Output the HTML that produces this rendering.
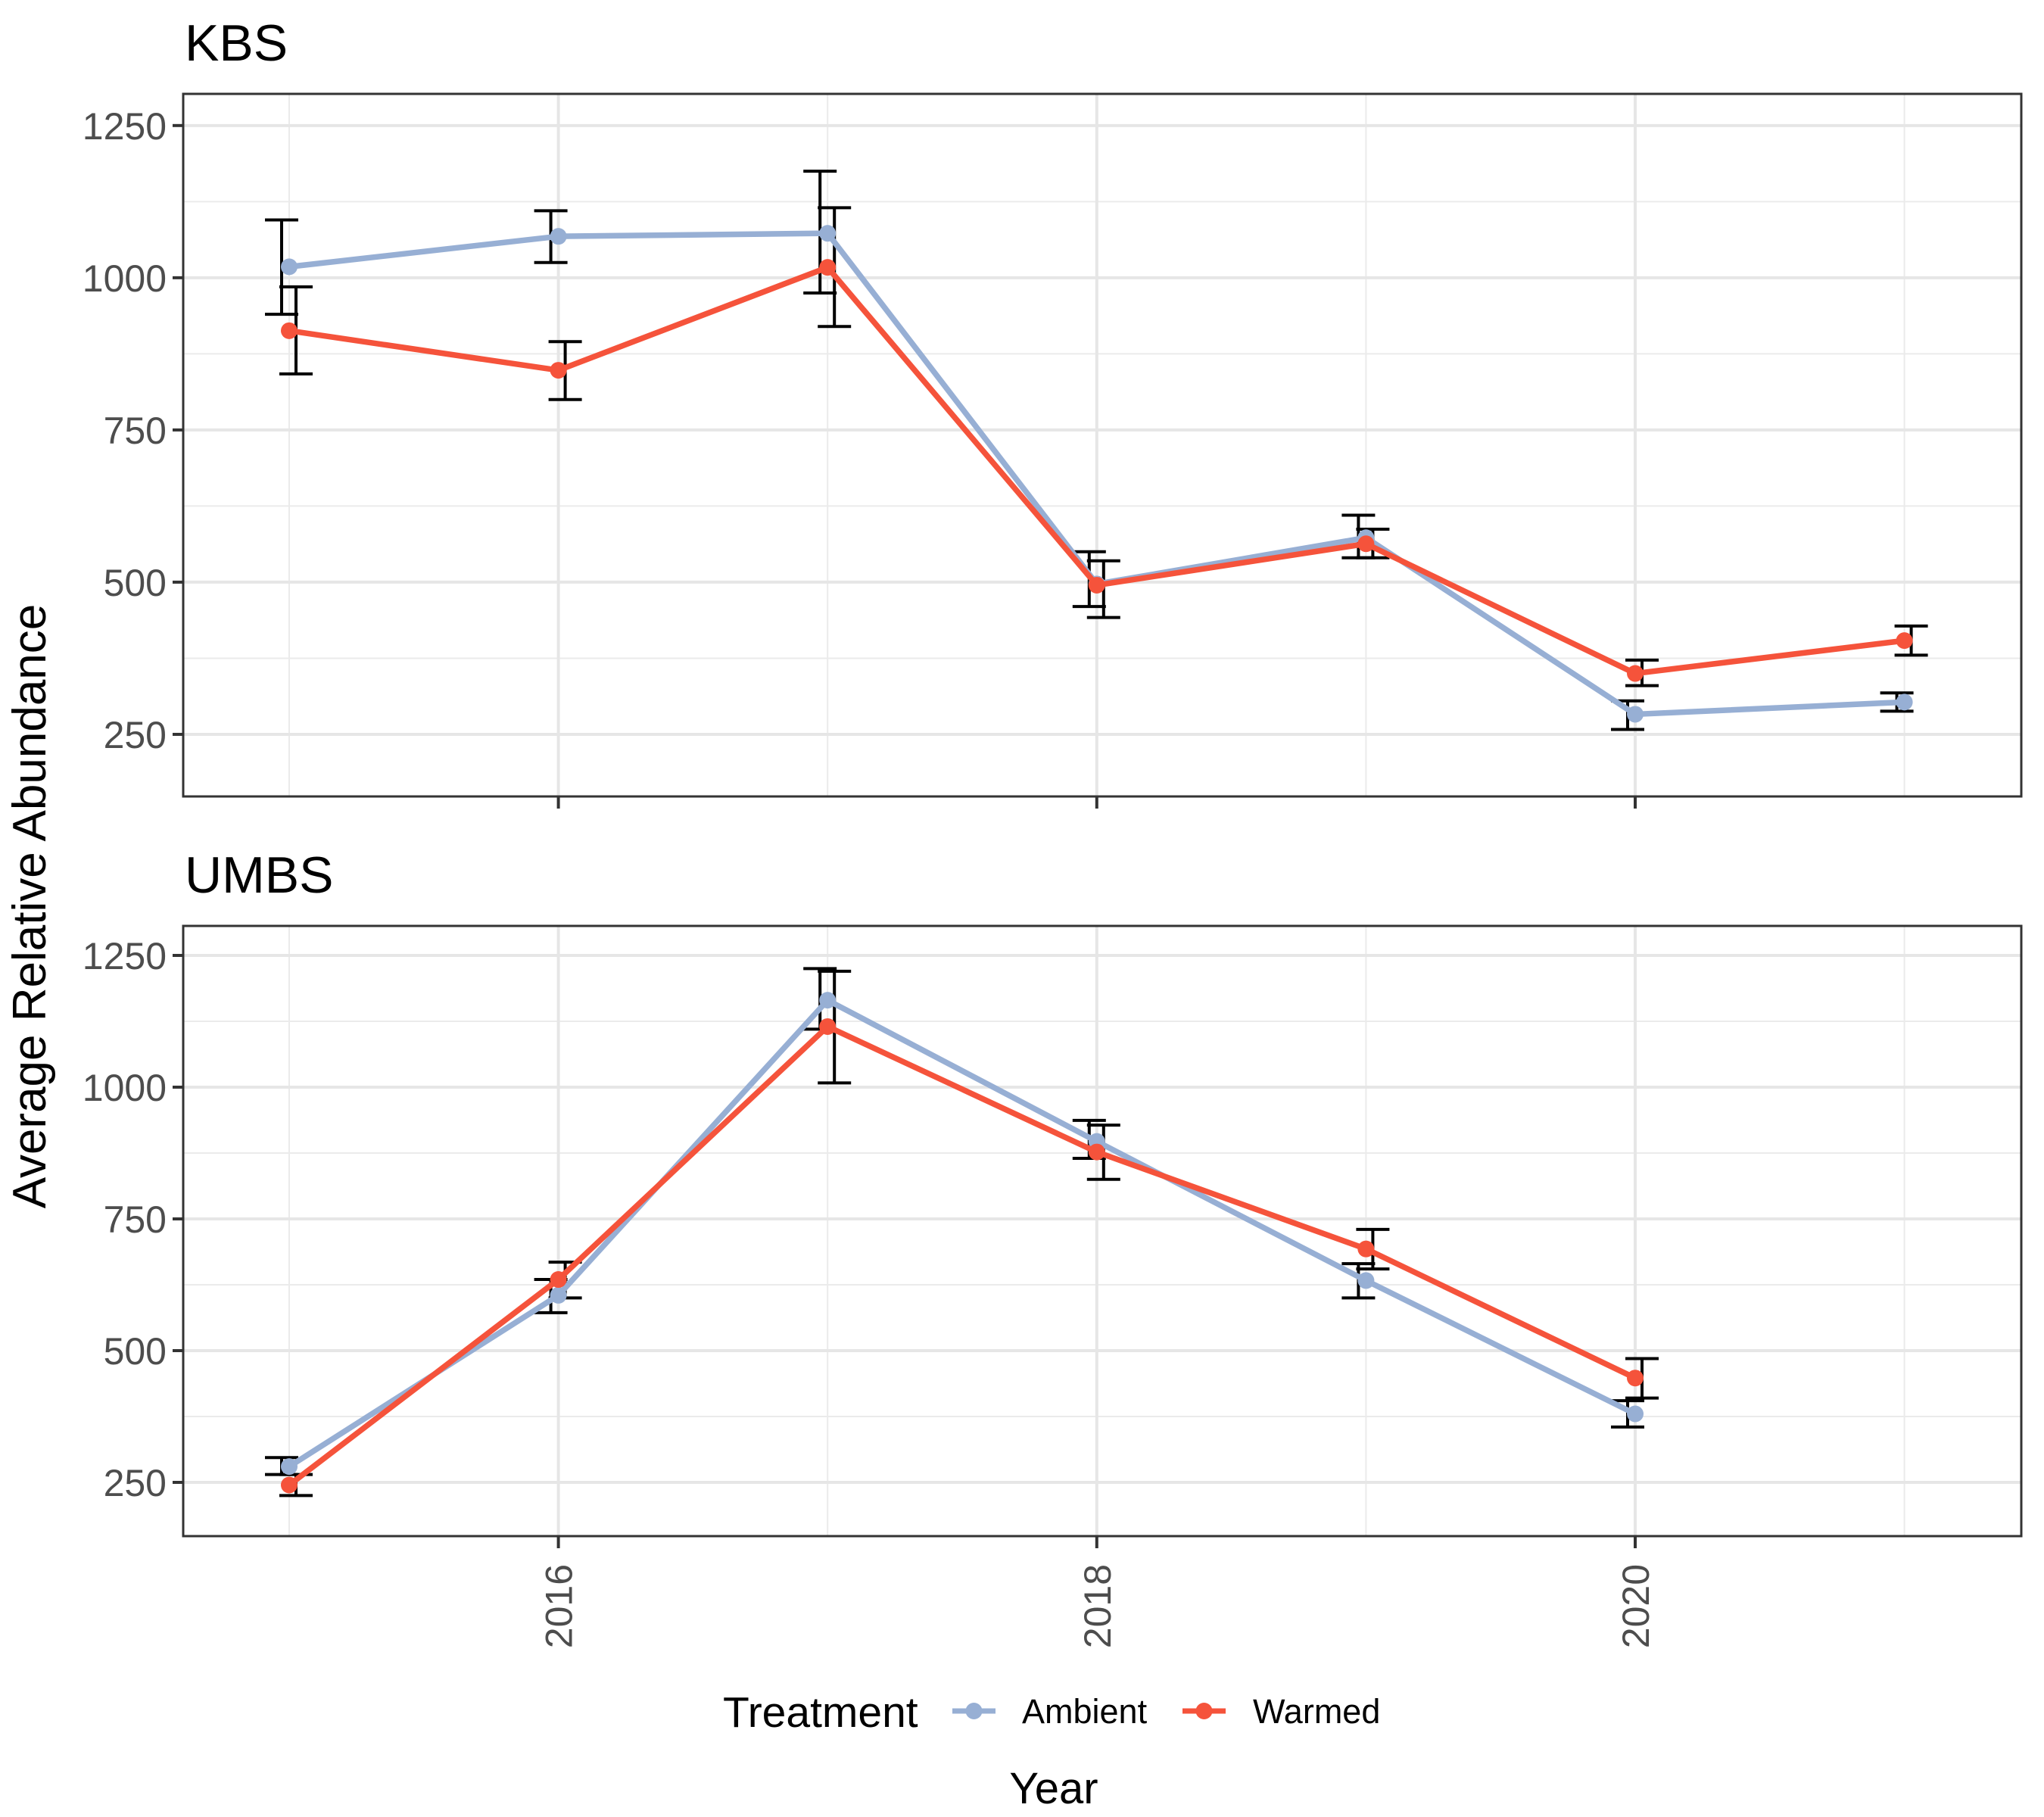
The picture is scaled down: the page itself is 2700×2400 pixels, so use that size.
<!DOCTYPE html>
<html><head><meta charset="utf-8"><style>
html,body{margin:0;padding:0;background:#fff;}
svg{display:block;font-family:"Liberation Sans",Arial,sans-serif;}
</style></head><body>
<svg id="chart" width="2700" height="2400" viewBox="0 0 2700 2400" xmlns="http://www.w3.org/2000/svg"></svg>
<script>
const years = [2015, 2016, 2017, 2018, 2019, 2020, 2021];
const xTicks = [2016, 2018, 2020];
const yTicks = [250, 500, 750, 1000, 1250];
const yMinorTicks = [375, 625, 875, 1125];
const kbsAmbient = [1018, 1068, 1073, 497, 573, 283, 303];
const kbsAmbientLo = [940, 1025, 975, 460, 540, 258, 288];
const kbsAmbientHi = [1095, 1110, 1175, 550, 610, 305, 318];
const kbsWarmed = [913, 848, 1017, 495, 563, 350, 404];
const kbsWarmedLo = [842, 800, 920, 442, 540, 330, 380];
const kbsWarmedHi = [985, 895, 1115, 535, 587, 372, 428];
const umbsAmbient = [280, 605, 1165, 897, 633, 380];
const umbsAmbientLo = [265, 572, 1110, 865, 600, 355];
const umbsAmbientHi = [297, 635, 1225, 937, 665, 405];
const umbsWarmed = [245, 635, 1115, 877, 693, 448];
const umbsWarmedLo = [225, 600, 1008, 825, 655, 410];
const umbsWarmedHi = [265, 668, 1220, 928, 730, 485];

const NS = "http://www.w3.org/2000/svg";
const svg = document.getElementById('chart');
const AMB = "#97AFD4", WARM = "#F5533B";
const L = 242, R = 2670;
function xs(yr){ return 382 + (yr - 2015) * 355.6; }
function mk(tag, attrs, parent){
  const e = document.createElementNS(NS, tag);
  for (const k in attrs) e.setAttribute(k, attrs[k]);
  (parent || svg).appendChild(e);
  return e;
}
function txt(s, attrs, parent){ const t = mk('text', attrs, parent); t.textContent = s; return t; }

function panel(name, title, top, bottom, dmin, dmax, titleY, ser){
  const g = mk('g', {});
  
  
  const ys = v => bottom - (v - dmin) / (dmax - dmin) * (bottom - top);
  const t = txt(title, {x: 244, y: titleY, 'font-size': 68, fill: '#000'}, g);
  
  
  yMinorTicks.forEach(v => mk('line', {x1: L, x2: R, y1: ys(v), y2: ys(v), stroke: '#ebebeb', 'stroke-width': 2}, g));
  for (let y = 2015; y <= 2021; y += 2) mk('line', {x1: xs(y), x2: xs(y), y1: top, y2: bottom, stroke: '#ebebeb', 'stroke-width': 2}, g);
  yTicks.forEach(v => {
    mk('line', {x1: L, x2: R, y1: ys(v), y2: ys(v), stroke: '#e6e6e6', 'stroke-width': 4}, g);
    mk('line', {x1: L - 14, x2: L, y1: ys(v), y2: ys(v), stroke: '#333', 'stroke-width': 4}, g);
    const lab = txt(String(v), {x: L - 22, y: ys(v) + 18, 'font-size': 50, fill: '#4d4d4d', 'text-anchor': 'end'}, g);
    
    
  });
  xTicks.forEach(v => {
    mk('line', {x1: xs(v), x2: xs(v), y1: top, y2: bottom, stroke: '#e6e6e6', 'stroke-width': 4}, g);
    mk('line', {x1: xs(v), x2: xs(v), y1: bottom, y2: bottom + 16, stroke: '#333', 'stroke-width': 4}, g);
  });
  ser.forEach(s => {
    const sg = mk('g', {}, g);
    
    
    s.vals.forEach((v, i) => {
      const x = xs(years[i]) + s.off;
      const eb = mk('path', {d: `M${x-22},${ys(s.hi[i])}H${x+22}M${x},${ys(s.hi[i])}V${ys(s.lo[i])}M${x-22},${ys(s.lo[i])}H${x+22}`, stroke: '#000', 'stroke-width': 4, fill: 'none'}, sg);
      
      
    });
  });
  ser.forEach(s => {
    const pts = s.vals.map((v, i) => xs(years[i]) + ',' + ys(v)).join(' ');
    const pl = mk('polyline', {points: pts, fill: 'none', stroke: s.color, 'stroke-width': 7.5, 'stroke-linejoin': 'round'}, g);
    
    
    s.vals.forEach((v, i) => {
      const c = mk('circle', {cx: xs(years[i]), cy: ys(v), r: 11, fill: s.color}, g);
      
      
    });
  });
  mk('rect', {x: L, y: top, width: R - L, height: bottom - top, fill: 'none', stroke: '#333', 'stroke-width': 3}, g);
}

panel('kbs', 'KBS', 124, 1052, 148, 1302, 80, [
  {key: 'ambient', color: AMB, vals: kbsAmbient, lo: kbsAmbientLo, hi: kbsAmbientHi, off: -10},
  {key: 'warmed', color: WARM, vals: kbsWarmed, lo: kbsWarmedLo, hi: kbsWarmedHi, off: 9}
]);
panel('umbs', 'UMBS', 1223, 2029, 148, 1306, 1179, [
  {key: 'ambient', color: AMB, vals: umbsAmbient, lo: umbsAmbientLo, hi: umbsAmbientHi, off: -10},
  {key: 'warmed', color: WARM, vals: umbsWarmed, lo: umbsWarmedLo, hi: umbsWarmedHi, off: 9}
]);

xTicks.forEach(v => {
  const t = txt(String(v), {x: 0, y: 0, 'font-size': 50, fill: '#4d4d4d', 'text-anchor': 'end', transform: `translate(${xs(v) + 18},2066) rotate(-90)`});
  
  
});
</script>
<script>
(function(){
  const NS = "http://www.w3.org/2000/svg";
  const svg = document.getElementById('chart');
  function mk(tag, attrs){ const e = document.createElementNS(NS, tag); for (const k in attrs) e.setAttribute(k, attrs[k]); svg.appendChild(e); return e; }
  let t = mk('text', {x: 0, y: 0, 'font-size': 62, fill: '#000', 'text-anchor': 'middle', transform: 'translate(60,1197) rotate(-90)'});
  t.textContent = 'Average Relative Abundance';
  
  
  t = mk('text', {x: 1392, y: 2382, 'font-size': 58, fill: '#000', 'text-anchor': 'middle'});
  t.textContent = 'Year';
  
  
  t = mk('text', {x: 955, y: 2281, 'font-size': 57, fill: '#000'});
  t.textContent = 'Treatment';
  
  
  const entries = [['Ambient', '#97AFD4', 1258, 1350], ['Warmed', '#F5533B', 1562, 1655]];
  entries.forEach(e => {
    const g = document.createElementNS(NS, 'g');
    
    
    svg.appendChild(g);
    const ln = document.createElementNS(NS, 'line');
    ln.setAttribute('x1', e[2]); ln.setAttribute('x2', e[2] + 57); ln.setAttribute('y1', 2260); ln.setAttribute('y2', 2260);
    ln.setAttribute('stroke', e[1]); ln.setAttribute('stroke-width', 7);
    g.appendChild(ln);
    const c = document.createElementNS(NS, 'circle');
    c.setAttribute('cx', e[2] + 28.5); c.setAttribute('cy', 2260); c.setAttribute('r', 11); c.setAttribute('fill', e[1]);
    g.appendChild(c);
    const tx = document.createElementNS(NS, 'text');
    tx.setAttribute('x', e[3]); tx.setAttribute('y', 2276); tx.setAttribute('font-size', 45); tx.setAttribute('fill', '#000');
    tx.textContent = e[0];
    g.appendChild(tx);
  });
})();
</script>
</body></html>
